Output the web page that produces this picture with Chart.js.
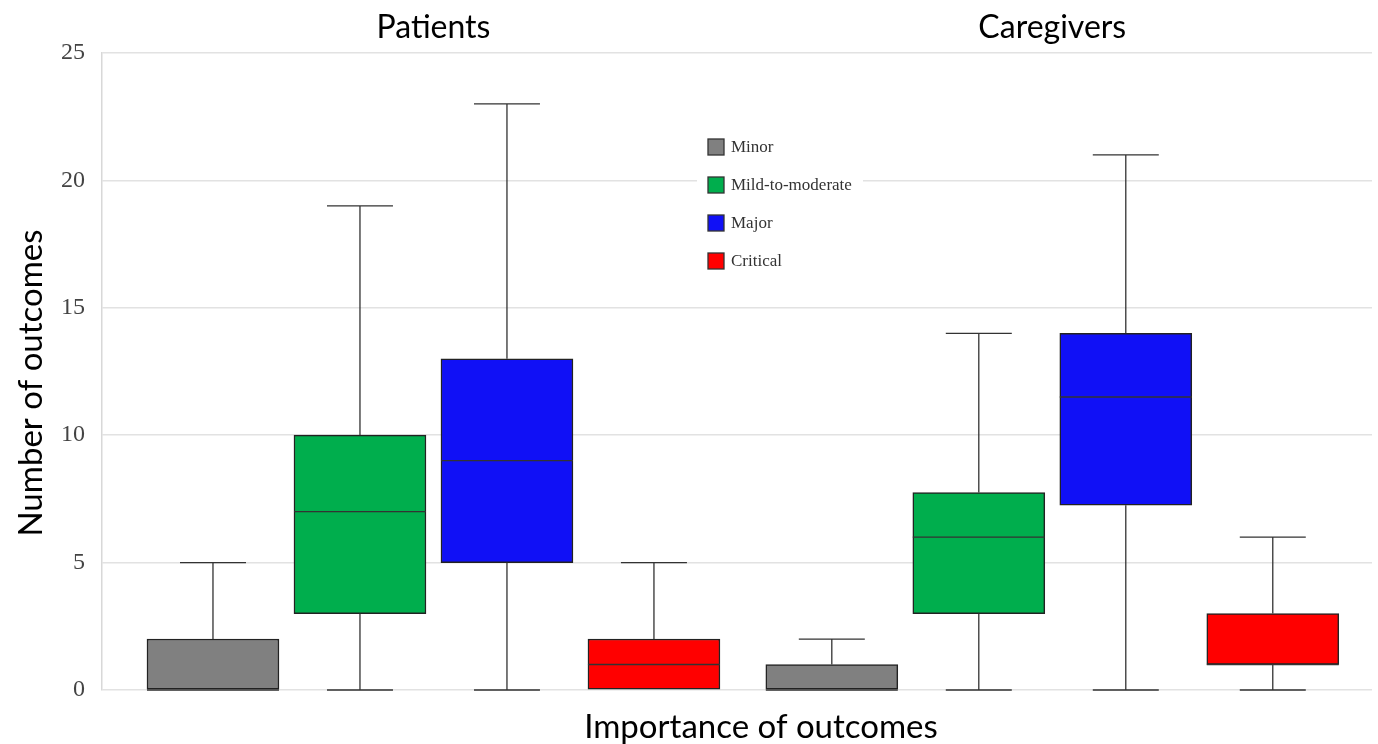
<!DOCTYPE html>
<html>
<head>
<meta charset="utf-8">
<script src="https://cdn.jsdelivr.net/npm/chart.js@4.4.1/dist/chart.umd.min.js"></script>
<style>
    html, body { margin: 0; padding: 0; background: #fff; }
    #wrap { width: 1378px; height: 744px; }
</style>
</head>
<body>
<div id="wrap"><canvas id="chart" width="1378" height="744"></canvas></div>
<script>
// Box plot: number of outcomes by importance, patients vs caregivers
const groups = ['Patients', 'Caregivers'];
const levels = ['Minor', 'Mild-to-moderate', 'Major', 'Critical'];
const levelColors = ['#808080', '#00ae4d', '#1010f6', '#ff0000'];
const xTitle = 'Importance of outcomes';
const yTitle = 'Number of outcomes';

// each row is one importance level: [Patients, Caregivers]
const whiskerLow  = [[0, 0], [0, 0], [0, 0],     [0, 0]];
const quartile1   = [[0, 0], [3, 3], [5, 7.25],  [0, 1]];
const medians     = [[0, 0], [7, 6], [9, 11.5],  [1, 1]];
const quartile3   = [[2, 1], [10, 7.75], [13, 14], [2, 3]];
const whiskerHigh = [[5, 2], [19, 14], [23, 21], [5, 6]];

// slot of a box along the hidden x axis (one unit per box, wider gap between groups)
const groupStride = 4.21;
function slot(g, i) { return g * groupStride + i; }

const datasets = levels.map(function (name, i) {
    return {
        label: name,
        data: groups.map(function (grp, g) {
            return { x: slot(g, i), y: [quartile1[i][g], quartile3[i][g]] };
        }),
        backgroundColor: levelColors[i],
        borderColor: '#222',
        borderWidth: 1.5,
        borderSkipped: false,
        grouped: false,
        barThickness: 132
    };
});

const boxPlotLines = {
    id: 'boxPlotLines',
    afterDatasetsDraw(chart) {
        const ctx = chart.ctx;
        const y = chart.scales.y;
        ctx.save();
        ctx.strokeStyle = '#333';
        ctx.lineWidth = 1.3;
        chart.data.datasets.forEach(function (ds, li) {
            chart.getDatasetMeta(li).data.forEach(function (bar, gi) {
                const half = bar.width / 2;
                const cap = bar.width / 4;
                const yLo = y.getPixelForValue(whiskerLow[li][gi]);
                const yQ1 = y.getPixelForValue(quartile1[li][gi]);
                const yMed = y.getPixelForValue(medians[li][gi]);
                const yQ3 = y.getPixelForValue(quartile3[li][gi]);
                const yHi = y.getPixelForValue(whiskerHigh[li][gi]);
                ctx.beginPath();
                if (whiskerHigh[li][gi] > quartile3[li][gi]) {
                    ctx.moveTo(bar.x, yQ3); ctx.lineTo(bar.x, yHi);
                    ctx.moveTo(bar.x - cap, yHi); ctx.lineTo(bar.x + cap, yHi);
                }
                if (whiskerLow[li][gi] < quartile1[li][gi]) {
                    ctx.moveTo(bar.x, yQ1); ctx.lineTo(bar.x, yLo);
                    ctx.moveTo(bar.x - cap, yLo); ctx.lineTo(bar.x + cap, yLo);
                }
                ctx.moveTo(bar.x - half, yMed); ctx.lineTo(bar.x + half, yMed);
                ctx.stroke();
            });
        });
        ctx.restore();
    },
    afterDraw(chart) {
        const ctx = chart.ctx;
        const x = chart.scales.x;
        ctx.save();
        // group headings above each group of boxes
        ctx.fillStyle = '#000';
        ctx.font = '32px Lato';
        ctx.textAlign = 'center';
        ctx.textBaseline = 'alphabetic';
        groups.forEach(function (grp, g) {
            const mid = (slot(g, 0) + slot(g, levels.length - 1)) / 2;
            ctx.fillText(grp, x.getPixelForValue(mid), 38);
        });

        // axis titles
        ctx.font = '33px Lato';
        ctx.fillText(xTitle, 761, 738);
        ctx.save();
        ctx.translate(42, 383);
        ctx.rotate(-Math.PI / 2);
        ctx.fillText(yTitle, 0, 0);
        ctx.restore();

        // legend box inside the plot
        ctx.fillStyle = '#fff';
        ctx.fillRect(697, 128, 166, 148);
        ctx.font = '17px "Liberation Serif"';
        ctx.textAlign = 'left';
        ctx.textBaseline = 'middle';
        levels.forEach(function (name, i) {
            const cy = 147 + i * 38;
            ctx.fillStyle = levelColors[i];
            ctx.fillRect(708, cy - 8, 16, 16);
            ctx.strokeStyle = '#333';
            ctx.lineWidth = 1.3;
            ctx.strokeRect(708, cy - 8, 16, 16);
            ctx.fillStyle = '#333';
            ctx.fillText(name, 731, cy + 1);
        });
        ctx.restore();
    }
};

new Chart(document.getElementById('chart'), {
    type: 'bar',
    data: { datasets: datasets },
    options: {
        responsive: false,
        animation: false,
        layout: { padding: { top: 53, right: 6, left: 0, bottom: 0 } },
        plugins: {
            legend: { display: false },
            tooltip: { enabled: false }
        },
        scales: {
            x: {
                type: 'linear',
                offset: false,
                min: -0.755,
                max: 7.885,
                ticks: { display: false },
                grid: { display: false },
                border: { display: false },
                afterFit: function (s) { s.height = 54; }
            },
            y: {
                min: 0,
                max: 25,
                ticks: {
                    stepSize: 5,
                    padding: 17,
                    color: '#444',
                    font: { family: 'Liberation Serif', size: 24 }
                },
                grid: { color: '#e2e2e2', lineWidth: 1.5, drawTicks: false },
                border: { color: '#d8d8d8', width: 1.5 },
                afterFit: function (s) { s.width = 102; }
            }
        }
    },
    plugins: [boxPlotLines]
});
</script>
</body>
</html>
